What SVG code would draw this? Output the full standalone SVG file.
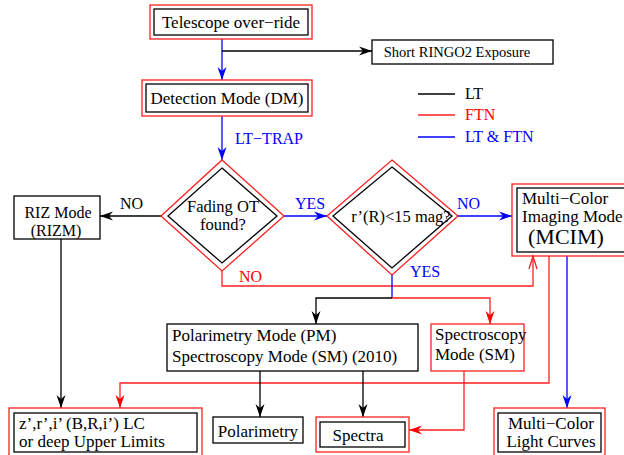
<svg xmlns="http://www.w3.org/2000/svg" width="624" height="455" viewBox="0 0 624 455">
<style>
text{font-family:"Liberation Serif","DejaVu Serif","Times New Roman",serif;font-size:17px;fill:#000}
.r{fill:none;stroke:#ff2020;stroke-width:1.3}
.k{fill:#fff;stroke:#000;stroke-width:1.3}
.kn{fill:none;stroke:#000;stroke-width:1.3}
.lk{fill:none;stroke:#000;stroke-width:1.3}
.lr{fill:none;stroke:#ff2020;stroke-width:1.3}
.lb{fill:none;stroke:#0000ff;stroke-width:1.3}
.tb{fill:#0000ff}
.tr{fill:#ff0000}
.c{text-anchor:middle}
.s16{font-size:16px}
</style>
<defs>
<marker id="ak" markerUnits="userSpaceOnUse" viewBox="-14 -6 16 12" refX="0" refY="0" markerWidth="16" markerHeight="12" orient="auto"><path d="M0,0 L-13,-4.5 L-9,0 L-13,4.5 Z" fill="#000"/></marker>
<marker id="ab" markerUnits="userSpaceOnUse" viewBox="-14 -6 16 12" refX="0" refY="0" markerWidth="16" markerHeight="12" orient="auto"><path d="M0,0 L-13,-4.5 L-9,0 L-13,4.5 Z" fill="#0000ff"/></marker>
<marker id="ar" markerUnits="userSpaceOnUse" viewBox="-14 -6 16 12" refX="0" refY="0" markerWidth="16" markerHeight="12" orient="auto"><path d="M0,0 L-13,-4.5 L-9,0 L-13,4.5 Z" fill="#ff0000"/></marker>
<marker id="aro" markerUnits="userSpaceOnUse" viewBox="-14 -6 16 12" refX="0" refY="0" markerWidth="16" markerHeight="12" orient="auto"><path d="M-13,-4 L0,0 L-13,4" fill="none" stroke="#ff2020" stroke-width="1.3"/></marker>
</defs>

<g id="connectors">
<path class="lb" d="M222,39 V80" marker-end="url(#ab)"/>
<path class="lk" d="M222,51 H372" marker-end="url(#ak)"/>
<path class="lb" d="M222,116 V160" marker-end="url(#ab)"/>
<path class="lk" d="M161,216 H100" marker-end="url(#ak)"/>
<path class="lb" d="M284,216 H327" marker-end="url(#ab)"/>
<path class="lb" d="M458,216 H512" marker-end="url(#ab)"/>
<path class="lr" d="M222,271 V286 H533 V256" marker-end="url(#aro)"/>
<path class="lb" d="M392,275 V298"/>
<path class="lk" d="M392,298 H316 V324" marker-end="url(#ak)"/>
<path class="lr" d="M392,298 H490 V324" marker-end="url(#ar)"/>
<path class="lk" d="M61,239 V408" marker-end="url(#ak)"/>
<path class="lr" d="M549,256 V383 H120 V408" marker-end="url(#ar)"/>
<path class="lb" d="M567,256 V408" marker-end="url(#ab)"/>
<path class="lk" d="M260,371 V417" marker-end="url(#ak)"/>
<path class="lk" d="M363,371 V417" marker-end="url(#ak)"/>
<path class="lr" d="M464,371 V430 H409" marker-end="url(#ar)"/>
<text x="239" y="282" class="tr s16">NO</text>
<text x="410" y="277" class="tb s16">YES</text>
<text x="120" y="209" class="s16">NO</text>
<text x="295" y="209" class="tb s16">YES</text>
<text x="457" y="209" class="tb s16">NO</text>
<text x="235" y="144" class="tb s16">LT−TRAP</text>
</g>

<g id="telescope">
<rect class="r" x="150" y="5" width="162" height="34"/>
<rect class="k" x="154" y="9" width="154" height="26"/>
<text x="231" y="28" class="c">Telescope over−ride</text>
</g>

<g id="short-ringo2">
<rect class="k" x="372" y="40" width="181" height="24"/>
<text x="457" y="57" class="c" style="font-size:14.5px">Short RINGO2 Exposure</text>
</g>

<g id="detection">
<rect class="r" x="142" y="80" width="170" height="36"/>
<rect class="k" x="146" y="84" width="162" height="28"/>
<text x="227" y="104" class="c">Detection Mode (DM)</text>
</g>

<g id="legend">
<line x1="418" y1="94" x2="455" y2="94" stroke="#000" stroke-width="1.3"/>
<line x1="418" y1="115" x2="455" y2="115" stroke="#ff2020" stroke-width="1.3"/>
<line x1="418" y1="137" x2="455" y2="137" stroke="#0000ff" stroke-width="1.3"/>
<text x="465" y="99" class="s16">LT</text>
<text x="465" y="120" class="tr s16">FTN</text>
<text x="465" y="142" class="tb s16">LT &amp; FTN</text>
</g>

<g id="fading">
<polygon class="r" points="222,160 284,216 222,271 161,216"/>
<polygon class="kn" points="222,168 277,216 222,263 168,216"/>
<text x="223" y="212" class="c" style="font-size:16.5px">Fading OT</text>
<text x="223" y="230" class="c" style="font-size:16.5px">found?</text>
</g>

<g id="riz">
<rect class="k" x="14" y="196" width="86" height="43"/>
<text x="58" y="218" class="c s16">RIZ Mode</text>
<text x="56" y="236" class="c s16">(RIZM)</text>
</g>

<g id="mag">
<polygon class="r" points="392,160 458,216 392,275 327,216"/>
<polygon class="kn" points="392,167 452,216 392,268 333,216"/>
<text x="401" y="222" class="c" style="font-size:16.5px">r’(R)&lt;15 mag?</text>
</g>

<g id="mcim">
<rect class="r" x="512" y="184" width="130" height="72"/>
<rect class="k" x="517" y="188" width="120" height="64"/>
<text x="522" y="204">Multi−Color</text>
<text x="522" y="222">Imaging Mode</text>
<text x="528" y="244" style="font-size:22px">(MCIM)</text>
</g>

<g id="pm">
<rect class="k" x="167" y="324" width="251" height="47"/>
<text x="172" y="341">Polarimetry Mode (PM)</text>
<text x="172" y="362">Spectroscopy Mode (SM) (2010)</text>
</g>

<g id="sm">
<rect class="r" x="431" y="324" width="93" height="47" style="fill:#fff"/>
<text x="435" y="340">Spectroscopy</text>
<text x="435" y="360">Mode (SM)</text>
</g>

<g id="lc">
<rect class="r" x="9" y="408" width="193" height="55"/>
<rect class="k" x="14" y="413" width="183" height="39"/>
<text x="19" y="429">z’,r’,i’ (B,R,i’) LC</text>
<text x="19" y="447">or deep Upper Limits</text>
</g>

<g id="polarimetry">
<rect class="k" x="213" y="417" width="90" height="26"/>
<text x="258" y="437" class="c">Polarimetry</text>
</g>

<g id="spectra">
<rect class="r" x="316" y="417" width="93" height="35"/>
<rect class="k" x="320" y="422" width="85" height="25"/>
<text x="358" y="441" class="c">Spectra</text>
</g>

<g id="mclc">
<rect class="r" x="494" y="408" width="111" height="55"/>
<rect class="k" x="498" y="413" width="103" height="39"/>
<text x="551" y="429" class="c">Multi−Color</text>
<text x="551" y="447" class="c">Light Curves</text>
</g>
</svg>
